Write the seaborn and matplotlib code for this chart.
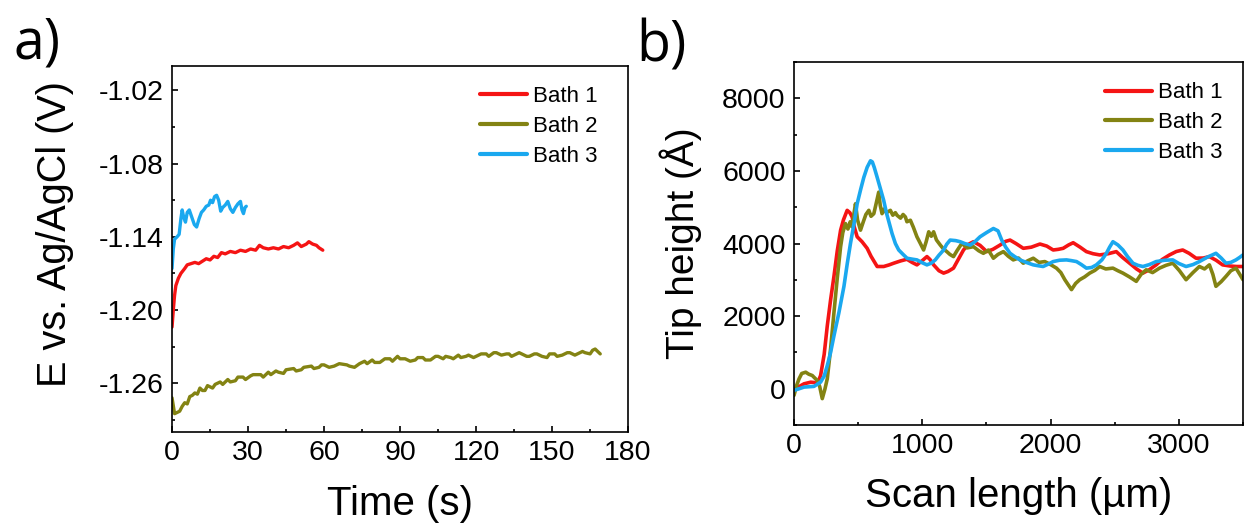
import pandas as pd
import numpy as np
import seaborn as sns
import matplotlib.pyplot as plt
from matplotlib.ticker import MultipleLocator, FormatStrFormatter

sns.set_style('ticks', {'axes.edgecolor': 'black', 'text.color': 'black', 'axes.labelcolor': 'black',
                        'xtick.color': 'black', 'ytick.color': 'black'})
plt.rcParams['font.family'] = ['Liberation Sans', 'DejaVu Sans']
plt.rcParams['axes.unicode_minus'] = False

# a) 电位-时间
t1 = [0, 0.5, 1, 1.5, 2.5, 3.5, 5, 6, 7.5, 9, 10.5, 12, 13.5, 15, 16.5, 18, 19.5, 21, 23, 25,
      27, 29, 31, 33, 34.5, 36, 38, 40, 42, 44, 46, 48, 49.5, 51, 53, 54, 55.5, 57, 58, 59.5]
e1 = [-1.214, -1.200, -1.188, -1.180, -1.174, -1.170, -1.166, -1.163, -1.162, -1.161,
      -1.162, -1.160, -1.158, -1.159, -1.156, -1.157, -1.153, -1.154, -1.152, -1.153,
      -1.151, -1.152, -1.150, -1.151, -1.147, -1.149, -1.150, -1.149, -1.150, -1.148,
      -1.149, -1.147, -1.145, -1.148, -1.146, -1.144, -1.146, -1.147, -1.149, -1.151]

t2 = [0, 1, 2, 3, 4, 5, 6, 7, 8, 9, 10, 11, 12, 13, 14, 16, 17, 19, 20, 22, 23, 25, 26, 28,
      29, 31, 32, 35, 36, 38, 39, 41, 42, 44, 45, 48, 49, 51, 52, 55, 56, 58, 59, 60, 62,
      64, 66, 69, 70, 72, 74, 76, 77, 79, 80, 82, 84, 86, 87, 89, 90, 92, 94, 96, 97, 99,
      100, 102, 104, 105, 107, 108, 110, 111, 113, 114, 116, 117, 119, 120, 122, 124, 125,
      127, 128, 130, 132, 133, 134, 135, 137, 138, 140, 141, 143, 144, 146, 148, 149, 151,
      152, 154, 156, 157, 159, 160, 162, 163, 165, 166, 167, 168, 169]
e2 = [-1.272, -1.285, -1.284, -1.283, -1.279, -1.276, -1.277, -1.271, -1.270, -1.268,
      -1.269, -1.264, -1.266, -1.266, -1.262, -1.264, -1.261, -1.259, -1.261, -1.257,
      -1.259, -1.258, -1.255, -1.255, -1.257, -1.254, -1.253, -1.253, -1.255, -1.251,
      -1.253, -1.250, -1.251, -1.252, -1.249, -1.248, -1.250, -1.249, -1.247, -1.246,
      -1.248, -1.247, -1.245, -1.245, -1.247, -1.246, -1.244, -1.245, -1.246, -1.247,
      -1.244, -1.242, -1.244, -1.241, -1.243, -1.243, -1.240, -1.240, -1.242, -1.238,
      -1.240, -1.240, -1.242, -1.241, -1.239, -1.239, -1.241, -1.241, -1.238, -1.238,
      -1.240, -1.238, -1.239, -1.240, -1.237, -1.239, -1.238, -1.237, -1.239, -1.238,
      -1.236, -1.236, -1.238, -1.235, -1.235, -1.237, -1.236, -1.236, -1.238, -1.237,
      -1.235, -1.236, -1.238, -1.238, -1.236, -1.236, -1.238, -1.239, -1.236, -1.236,
      -1.238, -1.237, -1.235, -1.235, -1.237, -1.236, -1.234, -1.235, -1.236, -1.233,
      -1.232, -1.234, -1.236]

t3 = [0, 0.5, 1, 2, 2.8, 3.5, 4, 4.6, 5.3, 6, 6.8, 7.8, 8.8, 9.7, 10.7, 11.6, 12.5, 13.5, 14.5,
      15.2, 16, 16.8, 17.6, 18.4, 19.2, 20, 21, 22, 23, 24, 25, 26, 27, 27.6, 28.2, 28.8, 29.3]
e3 = [-1.166, -1.150, -1.142, -1.140, -1.138, -1.125, -1.118, -1.124, -1.128, -1.120,
      -1.118, -1.124, -1.130, -1.132, -1.125, -1.120, -1.118, -1.115, -1.114, -1.110,
      -1.112, -1.107, -1.106, -1.110, -1.119, -1.116, -1.114, -1.111, -1.117, -1.120,
      -1.116, -1.113, -1.111, -1.118, -1.121, -1.116, -1.115]

# b) 针尖高度-扫描长度
L1 = [0, 40, 78, 130, 160, 181, 207, 235, 259, 285, 311, 337, 363, 385, 414, 435, 453, 470,
      492, 530, 570, 600, 648, 699, 740, 777, 830, 880, 920, 958, 1000, 1036, 1060, 1088,
      1130, 1166, 1200, 1243, 1280, 1321, 1360, 1399, 1450, 1502, 1550, 1606, 1650, 1684,
      1730, 1787, 1850, 1917, 1970, 2020, 2060, 2098, 2140, 2176, 2230, 2279, 2330, 2383,
      2450, 2512, 2560, 2616, 2670, 2720, 2770, 2823, 2870, 2927, 2980, 3030, 3080, 3134,
      3190, 3238, 3290, 3341, 3400, 3450, 3500]
h1 = [-45, 60, 136, 180, 170, 136, 364, 950, 1730, 2450, 3094, 3800, 4368, 4650, 4914, 4850,
      4732, 4450, 4186, 4050, 3868, 3650, 3367, 3367, 3410, 3458, 3520, 3567, 3480, 3412,
      3530, 3640, 3560, 3412, 3250, 3185, 3230, 3322, 3560, 3822, 3980, 4050, 3950, 3777,
      3840, 3958, 4060, 4095, 4000, 3868, 3900, 3986, 3930, 3822, 3840, 3868, 3960, 4022,
      3900, 3777, 3720, 3686, 3720, 3777, 3620, 3458, 3300, 3185, 3280, 3412, 3560, 3686,
      3780, 3822, 3730, 3595, 3600, 3640, 3540, 3412, 3380, 3367, 3367]

L2 = [0, 20, 39, 60, 91, 115, 142, 160, 181, 200, 220, 240, 259, 285, 311, 337, 363, 380,
      401, 420, 438, 453, 466, 479, 495, 518, 540, 560, 583, 600, 622, 640, 660, 672, 686,
      700, 720, 751, 770, 790, 803, 830, 850, 868, 880, 907, 930, 958, 985, 1010, 1030,
      1050, 1070, 1088, 1110, 1140, 1165, 1191, 1215, 1243, 1270, 1308, 1350, 1399, 1440,
      1476, 1515, 1554, 1590, 1632, 1670, 1709, 1750, 1787, 1825, 1865, 1910, 1955, 2000,
      2046, 2080, 2111, 2140, 2163, 2195, 2227, 2265, 2305, 2345, 2383, 2430, 2486, 2525,
      2564, 2615, 2668, 2705, 2745, 2795, 2849, 2900, 2953, 3005, 3056, 3110, 3160, 3200,
      3238, 3265, 3289, 3330, 3367, 3405, 3445, 3475, 3500]
h2 = [-182, 90, 273, 420, 455, 400, 364, 300, 228, 60, -273, -20, 273, 1100, 2093, 3050,
      3913, 4300, 4550, 4400, 4600, 4459, 4800, 5096, 4650, 4368, 4600, 4800, 4914, 4750,
      4823, 5100, 5415, 5050, 4823, 4950, 4850, 4914, 4780, 4850, 4778, 4700, 4800, 4732,
      4600, 4641, 4450, 4186, 4000, 3822, 4050, 4323, 4200, 4323, 4100, 3958, 3850, 3777,
      3700, 3640, 3800, 4004, 3880, 3913, 3800, 3731, 3820, 3595, 3700, 3777, 3650, 3549,
      3600, 3458, 3530, 3595, 3480, 3503, 3420, 3322, 3200, 3003, 2850, 2730, 2900, 3003,
      3080, 3185, 3260, 3367, 3300, 3322, 3250, 3185, 3080, 2958, 3150, 3276, 3200, 3322,
      3400, 3458, 3250, 3003, 3200, 3367, 3300, 3412, 3150, 2821, 2950, 3094, 3250, 3322,
      3150, 3003]

L3 = [0, 40, 78, 155, 207, 235, 259, 285, 311, 350, 389, 415, 440, 470, 492, 520, 544, 570,
      596, 610, 625, 648, 670, 699, 720, 764, 790, 816, 850, 881, 920, 958, 1000, 1036,
      1070, 1101, 1130, 1166, 1190, 1217, 1260, 1295, 1330, 1373, 1410, 1450, 1500, 1554,
      1590, 1619, 1650, 1684, 1720, 1761, 1810, 1865, 1900, 1942, 1980, 2020, 2070, 2124,
      2160, 2202, 2240, 2279, 2320, 2357, 2400, 2435, 2460, 2486, 2525, 2564, 2600, 2642,
      2680, 2720, 2770, 2823, 2890, 2953, 3000, 3056, 3110, 3160, 3220, 3289, 3330, 3367,
      3405, 3445, 3475, 3500]
h3 = [-45, 0, 45, 64, 182, 350, 637, 1000, 1456, 2100, 2821, 3450, 4004, 4600, 5096, 5500,
      5824, 6100, 6279, 6250, 6100, 5824, 5550, 5187, 4850, 4277, 4000, 3822, 3700, 3595,
      3570, 3549, 3470, 3412, 3460, 3549, 3680, 3822, 3980, 4095, 4080, 4050, 4000, 3958,
      4050, 4186, 4300, 4414, 4350, 4095, 3900, 3731, 3640, 3549, 3480, 3412, 3390, 3367,
      3430, 3503, 3540, 3549, 3530, 3503, 3420, 3322, 3340, 3412, 3550, 3731, 3900, 4050,
      3960, 3822, 3640, 3458, 3400, 3367, 3420, 3503, 3540, 3549, 3450, 3367, 3420, 3503,
      3620, 3731, 3600, 3458, 3480, 3549, 3620, 3686]

baths = ['Bath 1', 'Bath 2', 'Bath 3']
colors = ['#f51414', '#838313', '#1aa8ef']

df_a = pd.concat([pd.DataFrame({'t': t, 'E': e, 'Bath': b})
                  for t, e, b in zip([t1, t2, t3], [e1, e2, e3], baths)])
df_b = pd.concat([pd.DataFrame({'L': x, 'H': y, 'Bath': b})
                  for x, y, b in zip([L1, L2, L3], [h1, h2, h3], baths)])

fig = plt.figure(figsize=(12.44, 5.27), dpi=100)
ax1 = fig.add_axes([0.1383, 0.1803, 0.3666, 0.6945])
ax2 = fig.add_axes([0.6383, 0.1935, 0.3609, 0.6888])

sns.lineplot(data=df_a, x='t', y='E', hue='Bath', palette=colors, linewidth=2.4,
             estimator=None, sort=False, ax=ax1)
sns.lineplot(data=df_b, x='L', y='H', hue='Bath', palette=colors, linewidth=2.6,
             estimator=None, sort=False, ax=ax2)

def style(ax, anchor):
    for s in ax.spines.values():
        s.set_linewidth(1.2)
        s.set_color('black')
        s.set_visible(True)
    ax.tick_params(which='major', direction='in', length=4.3, width=1.2, labelsize=20.5, pad=6,
                   colors='black')
    ax.tick_params(which='minor', direction='in', length=2.5, width=1.2, colors='black')
    ax.tick_params(which='both', top=False, right=False)
    h, l = ax.get_legend_handles_labels()
    leg = ax.legend(h, l, loc='upper right', frameon=False, fontsize=16,
                    handlelength=2.1, handletextpad=0.3, labelspacing=0.4,
                    borderpad=0, borderaxespad=0, bbox_to_anchor=anchor, labelcolor='black')
    for line in leg.get_lines():
        line.set_linewidth(3)

ax1.set_xlim(0, 180)
ax1.set_ylim(-1.30, -1.00)
ax1.xaxis.set_major_locator(MultipleLocator(30))
ax1.xaxis.set_minor_locator(MultipleLocator(15))
ax1.set_yticks([-1.26, -1.20, -1.14, -1.08, -1.02])
ax1.yaxis.set_minor_locator(MultipleLocator(0.03))
ax1.yaxis.set_major_formatter(FormatStrFormatter('%.2f'))
ax1.set_xlabel('Time (s)', fontsize=29, color='black')
ax1.set_ylabel('E vs. Ag/AgCl (V)', fontsize=28.5, color='black')
ax1.xaxis.set_label_coords(0.5, -0.145)
ax1.yaxis.set_label_coords(-0.215, 0.54)
style(ax1, (0.934, 0.945))

ax2.set_xlim(0, 3500)
ax2.set_ylim(-1000, 9000)
ax2.set_xticks([0, 1000, 2000, 3000])
ax2.xaxis.set_minor_locator(MultipleLocator(500))
ax2.set_yticks([0, 2000, 4000, 6000, 8000])
ax2.yaxis.set_minor_locator(MultipleLocator(1000))
ax2.set_xlabel('Scan length (µm)', fontsize=29, color='black')
ax2.set_ylabel('Tip height (Å)', fontsize=28, color='black')
ax2.xaxis.set_label_coords(0.5, -0.144)
ax2.yaxis.set_label_coords(-0.205, 0.5)
style(ax2, (0.955, 0.944))

fig.text(0.0297, 0.9165, 'a)', fontsize=40, family=['Open Sans', 'DejaVu Sans'], va='center', ha='center', color='black')
fig.text(0.532, 0.911, 'b)', fontsize=40, family=['Open Sans', 'DejaVu Sans'], va='center', ha='center', color='black')

fig.savefig('out.png', dpi=100)
